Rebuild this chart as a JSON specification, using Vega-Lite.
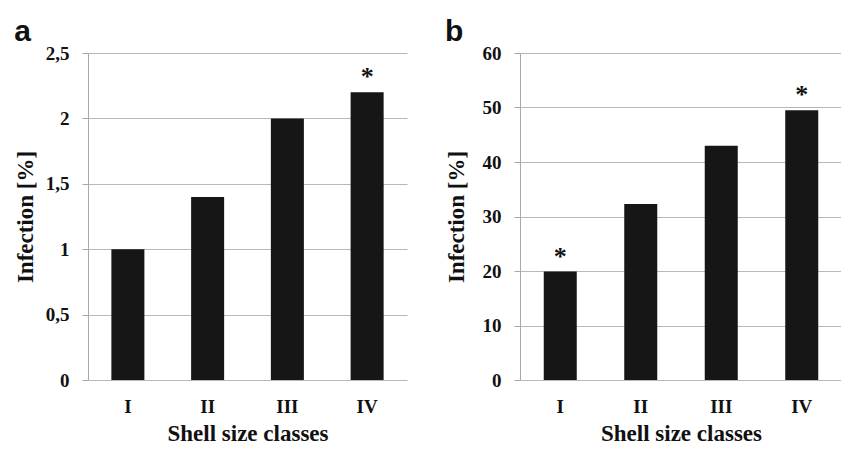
{
  "$schema": "https://vega.github.io/schema/vega-lite/v6.json",
  "padding": {"left": 14, "top": 17, "right": 0, "bottom": 0},
  "spacing": 38,
  "config": {
    "view": {"stroke": null},
    "axis": {
      "labelFont": "Liberation Serif", "labelFontWeight": "bold", "labelFontSize": 19, "labelColor": "#111",
      "titleFont": "Liberation Serif", "titleFontWeight": "bold", "titleFontSize": 23, "titleColor": "#111"
    },
    "axisY": {
      "domainColor": "#a8a8a8", "tickColor": "#a8a8a8", "gridColor": "#b8b8b8", "tickSize": 6,
      "labelPadding": 13, "titlePadding": 8
    },
    "axisX": {
      "domain": false, "ticks": false, "labelAngle": 0, "labelPadding": 17, "titlePadding": 6
    },
    "title": {"font": "Liberation Sans", "fontWeight": "bold", "fontSize": 30, "anchor": "start", "frame": "bounds", "color": "#111"}
  },
  "hconcat": [
    {
      "title": {"text": "a", "offset": -3},
      "width": 319,
      "height": 327,
      "data": {"values": [
        {"cls": "I", "value": 1.0, "sig": ""},
        {"cls": "II", "value": 1.4, "sig": ""},
        {"cls": "III", "value": 2.0, "sig": ""},
        {"cls": "IV", "value": 2.2, "sig": "*"}
      ]},
      "encoding": {
        "x": {"field": "cls", "type": "nominal", "sort": null, "title": "Shell size classes",
              "scale": {"paddingInner": 0.586, "paddingOuter": 0.293}},
        "y": {"field": "value", "type": "quantitative", "title": "Infection [%]",
              "scale": {"domain": [0, 2.5], "nice": false},
              "axis": {"values": [0, 0.5, 1, 1.5, 2, 2.5], "labelExpr": "replace(toString(datum.value), '.', ',')"}}
      },
      "layer": [
        {"mark": {"type": "bar", "color": "#161616"}},
        {"mark": {"type": "text", "font": "Liberation Serif", "fontWeight": "bold", "fontSize": 26, "baseline": "alphabetic", "dy": -7, "color": "#111"},
         "encoding": {"text": {"field": "sig"}}}
      ]
    },
    {
      "title": {"text": "b", "offset": -3},
      "width": 322,
      "height": 327,
      "data": {"values": [
        {"cls": "I", "value": 19.9, "sig": "*"},
        {"cls": "II", "value": 32.3, "sig": ""},
        {"cls": "III", "value": 43.0, "sig": ""},
        {"cls": "IV", "value": 49.5, "sig": "*"}
      ]},
      "encoding": {
        "x": {"field": "cls", "type": "nominal", "sort": null, "title": "Shell size classes",
              "scale": {"paddingInner": 0.59, "paddingOuter": 0.295}},
        "y": {"field": "value", "type": "quantitative", "title": "Infection [%]",
              "scale": {"domain": [0, 60], "nice": false},
              "axis": {"values": [0, 10, 20, 30, 40, 50, 60], "titlePadding": 14}}
      },
      "layer": [
        {"mark": {"type": "bar", "color": "#161616"}},
        {"mark": {"type": "text", "font": "Liberation Serif", "fontWeight": "bold", "fontSize": 26, "baseline": "alphabetic", "dy": -7, "color": "#111"},
         "encoding": {"text": {"field": "sig"}}}
      ]
    }
  ]
}
